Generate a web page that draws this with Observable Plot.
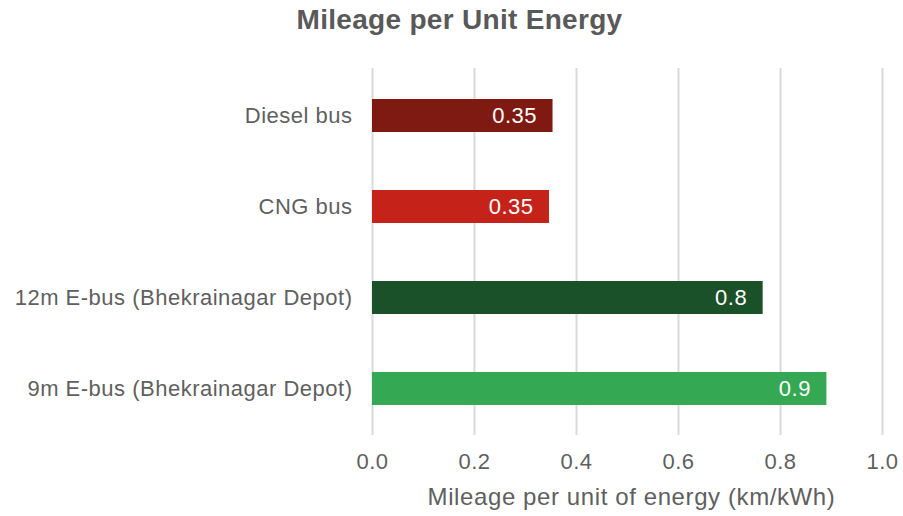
<!DOCTYPE html>
<html><head><meta charset="utf-8">
<script src="https://cdn.jsdelivr.net/npm/d3@7"></script>
<script src="https://cdn.jsdelivr.net/npm/@observablehq/plot@0.6"></script>
<style>
body{margin:0;background:#fff;font-family:"Liberation Sans",Arial,sans-serif;width:903px;height:516px;overflow:hidden;}
#title{height:56px;box-sizing:border-box;padding-top:5px;text-align:center;font-size:28px;letter-spacing:0.3px;font-weight:bold;color:#595959;line-height:30px;padding-left:16px;}
#chart svg{display:block;}
#chart svg text{letter-spacing:0.5px;}
#chart svg .xlabel text{letter-spacing:0.6px;}
</style></head><body>
<div id="title">Mileage per Unit Energy</div>
<div id="chart"></div>
<script>
const categories = ["Diesel bus", "CNG bus", "12m E-bus (Bhekrainagar Depot)", "9m E-bus (Bhekrainagar Depot)"];
const values = [0.354, 0.347, 0.766, 0.891];
const valueLabels = ["0.35", "0.35", "0.8", "0.9"];
const colors = ["#7f1a12", "#c5221a", "#1b5128", "#34a853"];
const xTicks = [0, 0.2, 0.4, 0.6, 0.8, 1.0];
const xTickLabels = ["0.0", "0.2", "0.4", "0.6", "0.8", "1.0"];
const xTitle = "Mileage per unit of energy (km/kWh)";

const data = categories.map((c, i) => ({c, v: values[i], label: valueLabels[i], color: colors[i]}));

const chart = Plot.plot({
  width: 903, height: 460,
  marginTop: 12, marginBottom: 81, marginLeft: 372, marginRight: 21,
  style: {fontFamily: '"Liberation Sans", Arial, sans-serif', fontSize: "22px", color: "#5f5f5f", background: "#fff", overflow: "visible"},
  x: {domain: [0, 1]},
  y: {domain: categories, paddingInner: 0.64, paddingOuter: 0.32},
  marks: [
    Plot.gridX(xTicks, {stroke: "#dadada", strokeWidth: 2, strokeOpacity: 1}),
    Plot.barX(data, {x: "v", y: "c", fill: "color"}),
    Plot.text(data, {x: "v", y: "c", text: "label", textAnchor: "end", dx: -16, fill: "white", fontSize: 22}),
    Plot.axisY({tickSize: 0, tickPadding: 20, label: null, fill: "#5f5f5f", fontSize: 22}),
    Plot.axisX(xTicks, {tickSize: 0, tickPadding: 18, fontSize: 22, tickFormat: (d, i) => xTickLabels[i], label: null, fill: "#5f5f5f"}),
    Plot.text([xTitle], {frameAnchor: "bottom", text: d => d, dx: 4, dy: 62, lineAnchor: "middle", fontSize: 24, fill: "#5f5f5f", className: "xlabel"})
  ]
});
document.getElementById("chart").append(chart);
</script>
</body></html>
